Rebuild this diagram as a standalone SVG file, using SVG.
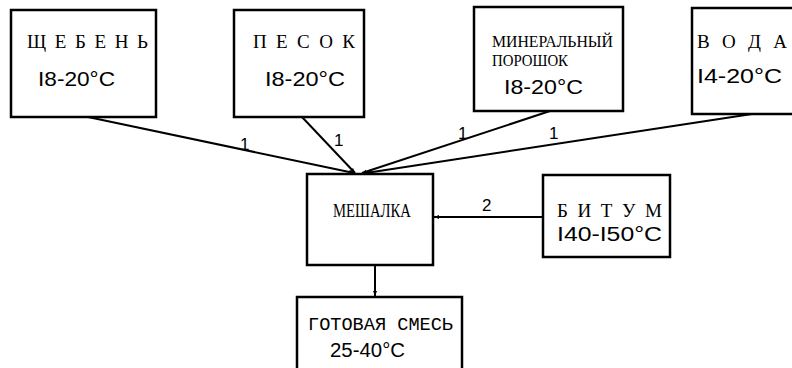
<svg xmlns="http://www.w3.org/2000/svg" width="792" height="368" viewBox="0 0 792 368">
<defs>
<style>
.box{fill:none;stroke:#000;stroke-width:2.5}
.ln{fill:none;stroke:#000;stroke-width:2}
.t{font-family:"Liberation Serif","DejaVu Serif",serif;font-size:19px;fill:#000}
.s{font-family:"Liberation Serif","DejaVu Serif",serif;font-size:16px;fill:#000}
.n{font-family:"Liberation Sans","DejaVu Sans",sans-serif;font-size:20px;fill:#000}
.m{font-family:"Liberation Mono","DejaVu Sans Mono",monospace;font-size:19px;fill:#000}
.lb{font-family:"Liberation Sans","DejaVu Sans",sans-serif;font-size:17px;fill:#000}
</style>
<marker id="ah" viewBox="0 0 10 10" refX="10" refY="5" markerWidth="5" markerHeight="5" orient="auto" markerUnits="userSpaceOnUse">
<path d="M0,1 L10,5 L0,9 Z" fill="#000"/>
</marker>
</defs>
<rect width="792" height="368" fill="#fff"/>
<g id="shheben">
<rect class="box" x="11" y="10" width="145" height="107"/>
<text class="t" x="27" y="48" textLength="121" lengthAdjust="spacing">Щ Е Б Е Н Ь</text>
<text class="n" x="38" y="86" textLength="77" lengthAdjust="spacingAndGlyphs">I8-20°C</text>
</g>
<g id="pesok">
<rect class="box" x="234" y="10" width="130" height="107"/>
<text class="t" x="253" y="48" textLength="102" lengthAdjust="spacing">П Е С О К</text>
<text class="n" x="265" y="86" textLength="80" lengthAdjust="spacingAndGlyphs">I8-20°C</text>
</g>
<g id="poroshok">
<rect class="box" x="474" y="7" width="149" height="104"/>
<text class="s" x="492" y="47" textLength="121" lengthAdjust="spacingAndGlyphs">МИНЕРАЛЬНЫЙ</text>
<text class="s" x="492" y="66" textLength="76" lengthAdjust="spacingAndGlyphs">ПОРОШОК</text>
<text class="n" x="504" y="94" textLength="79" lengthAdjust="spacingAndGlyphs">I8-20°C</text>
</g>
<g id="voda">
<rect class="box" x="692" y="8" width="110" height="106"/>
<text class="t" x="697" y="48" textLength="90" lengthAdjust="spacing">В О Д А</text>
<text class="n" x="697" y="83" textLength="85" lengthAdjust="spacingAndGlyphs">I4-20°C</text>
</g>
<g id="meshalka">
<rect class="box" x="307" y="174" width="126" height="91"/>
<text class="t" x="333" y="217" textLength="78" lengthAdjust="spacingAndGlyphs">МЕШАЛКА</text>
</g>
<g id="bitum">
<rect class="box" x="543" y="175" width="127" height="82"/>
<text class="t" x="557" y="217" textLength="105" lengthAdjust="spacing">Б И Т У М</text>
<text class="n" x="557" y="241" textLength="105" lengthAdjust="spacingAndGlyphs">I40-I50°C</text>
</g>
<g id="gotovaya">
<rect class="box" x="297" y="297" width="165" height="80"/>
<text class="m" x="308" y="330" textLength="145" lengthAdjust="spacingAndGlyphs">ГОТОВАЯ СМЕСЬ</text>
<text class="n" x="330" y="357" textLength="75" lengthAdjust="spacingAndGlyphs">25-40°C</text>
</g>
<g id="connectors">
<line class="ln" x1="88" y1="117" x2="354" y2="173" marker-end="url(#ah)"/>
<line class="ln" x1="302" y1="117" x2="355" y2="173" marker-end="url(#ah)"/>
<line class="ln" x1="550" y1="111" x2="362" y2="173" marker-end="url(#ah)"/>
<line class="ln" x1="752" y1="114" x2="366" y2="173" marker-end="url(#ah)"/>
<line class="ln" x1="543" y1="217" x2="434" y2="217" marker-end="url(#ah)"/>
<line class="ln" x1="375" y1="265" x2="375" y2="296" marker-end="url(#ah)"/>
<text class="lb" x="240" y="150">1</text>
<text class="lb" x="334" y="146">1</text>
<text class="lb" x="458" y="139">1</text>
<text class="lb" x="549" y="139">1</text>
<text class="lb" x="482" y="211" font-size="19">2</text>
</g>
</svg>
